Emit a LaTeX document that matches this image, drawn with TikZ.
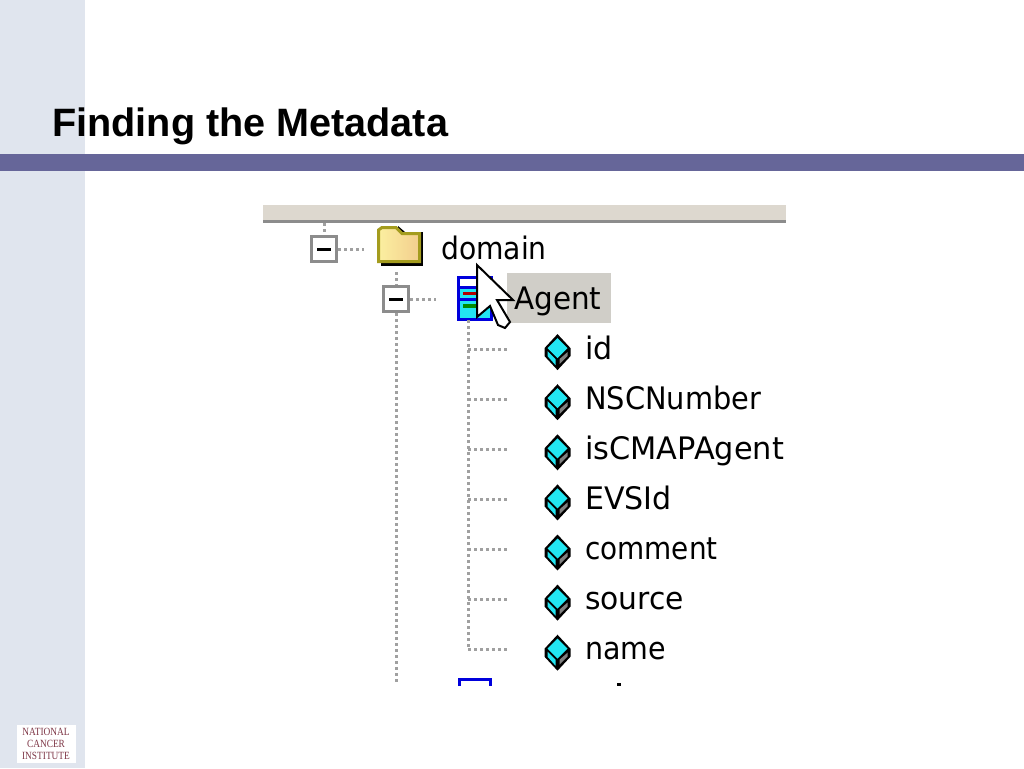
\documentclass[tikz,border=0pt]{standalone}
\usepackage{fontspec}
\setmainfont{Liberation Sans}
\newfontfamily\treefont{DejaVu Sans}
\newfontfamily\logofont{Liberation Serif}
\usetikzlibrary{positioning}
\definecolor{panelblue}{HTML}{E0E5EE}
\definecolor{barpurple}{HTML}{666699}
\definecolor{headbeige}{HTML}{DDD8CF}
\definecolor{dotgray}{HTML}{8C8C8C}
\definecolor{linegray}{HTML}{A0A0A0}
\definecolor{selgray}{HTML}{D0CEC8}
\definecolor{logored}{HTML}{7E3646}
\definecolor{iconblue}{HTML}{0000DC}
\definecolor{iconcyan}{HTML}{22E6F2}
\definecolor{foldline}{HTML}{A49C1E}
\definecolor{foldlight}{HTML}{FBEFA0}
\definecolor{folddark}{HTML}{F3CE8E}
\tikzset{
    titletext/.style = {anchor=base west,inner sep=0pt,font=\fontsize{39.6}{39.6}\selectfont\bfseries,text=black},
    treetext/.style = {anchor=base west,inner sep=0pt,font=\treefont\fontsize{31}{31}\selectfont,text=black},
    logotext/.style = {inner sep=0pt,font=\logofont\fontsize{11}{11}\selectfont,text=logored},
    minusbox/.style = {rectangle,draw=dotgray,line width=3pt,fill=white,minimum size=25pt,inner sep=0pt},
    minusbar/.style = {-,line width=3pt,black},
    treeline/.style = {-,line width=3pt,linegray,dash pattern=on 3pt off 3pt},
    classicon/.style = {rectangle,draw=iconblue,line width=3pt,inner sep=0pt},
}
\begin{document}
\begin{tikzpicture}[x=1pt,y=-1pt]
  \useasboundingbox (0,0) rectangle (1024,768);
  \fill[white] (0,0) rectangle (1024,768);
  % slide frame
  \fill[panelblue] (0,0) rectangle (85,768);
  \fill[barpurple] (0,153.5) rectangle (1024,170.5);
  \node[titletext] (title) at (52,136) {Finding the Metadata};
  % logo
  \node[fill=white,minimum width=59pt,minimum height=38pt,inner sep=0pt] (logo) at (46.5,744) {};
  \node[logotext] (logoa) at (46,732) {\scalebox{.85}[1]{NATIONAL}};
  \node[logotext] (logob) at (46,744) {\scalebox{.85}[1]{CANCER}};
  \node[logotext] (logoc) at (46,756) {\scalebox{.85}[1]{INSTITUTE}};
  % header of the tree panel
  \fill[headbeige] (263,205) rectangle (786,220);
  \fill[dotgray] (263,220) rectangle (786,223);
  % selection behind the class name
  \node[fill=selgray,minimum width=104pt,minimum height=50pt,inner sep=0pt] (agentsel) at (559,298) {};
  % boxes
  \node[minusbox] (boxa) at (324,249) {};
  \node[minusbox] (boxb) at (396,299) {};
  \draw[minusbar] (317,249) -- (331,249);
  \draw[minusbar] (389,299) -- (403,299);
  % folder
  \fill[black] (381,232) -- (423,232) -- (423,266) -- (381,266) -- cycle;
  \fill[black] (398,226) -- (405,232) -- (398,232) -- cycle;
  \shade[left color=foldlight,right color=folddark,draw=foldline,line width=3pt]
    (378.5,261.5) -- (378.5,230) -- (382,227.5) -- (396,227.5) -- (402,233.5) -- (419.5,233.5) -- (419.5,261.5) -- cycle;
  % class icon
  \fill[iconcyan] (458,277) rectangle (491,319);
  \fill[white] (459,279) rectangle (490,286);
  \fill[iconblue] (458,286) rectangle (491,289);
  \fill[iconblue] (458,298) rectangle (491,301);
  \draw[red!70!black,line width=3pt] (463,293) -- (487,293);
  \draw[green!55!black,line width=4pt] (463,306) -- (487,306);
  \node[classicon,minimum width=33pt,minimum height=42pt] (agenticon) at (474.5,298) {};
  % next class, cut off by the window
  \draw[iconblue,line width=3pt] (459,686) -- (459,679) -- (490,679) -- (490,686);
  \fill[black] (617,683) rectangle (621,686);
  % tree lines
  \coordinate (roottop) at (324,223);
  \coordinate (foldera) at (364,249);
  \coordinate (stemtop) at (396,272);
  \coordinate (stemend) at (396,683);
  \coordinate (iconb) at (436,299);
  \coordinate (attrtop) at (468,320);
  \draw[treeline] (roottop) -- (boxa.north);
  \draw[treeline] (boxa.east) -- (foldera);
  \draw[treeline] (stemtop) -- (boxb.north);
  \draw[treeline] (boxb.south) -- (stemend);
  \draw[treeline] (boxb.east) -- (iconb);
  % labels
  \node[treetext] (domain) at (441,259) {\scalebox{.91}[1]{domain}};
  \node[treetext] (agent) at (514,309) {\scalebox{.95}[1]{Agent}};
  % attributes
  \foreach \attr/\sx [count=\i] in {id/.97,NSCNumber/.93,isCMAPAgent/.98,EVSId/.97,comment/.90,source/.96,name/.92} {
    \pgfmathsetmacro{\rowy}{299+50.1*\i}
    \coordinate (tick\i) at (507,\rowy);
    \draw[treeline] (attrtop |- tick\i) -- (tick\i);
    \begin{scope}[shift={(557.5,\rowy+2)}]
      \fill[black] (0,-17) -- (13,-3) -- (13,5) -- (0,19) -- (-13,5) -- (-13,-3) -- cycle;
      \fill[iconcyan] (0,-13) -- (10,-3) -- (0,7) -- (-10,-3) -- cycle;
      \fill[iconcyan] (-10,0) -- (-2,8) -- (-2,14) -- (-10,5) -- cycle;
      \fill[gray] (10,1) -- (10,5) -- (2,13) -- (2,8) -- cycle;
    \end{scope}
    \node[treetext] (attr\i) at (585,\rowy+10) {\scalebox{\sx}[1]{\attr}};
  }
  \draw[treeline] (attrtop) -- (attrtop |- tick7);
  % mouse pointer
  \draw[black,fill=white,line width=2pt,line join=miter]
    (477,265) -- (477,317) -- (490,306) -- (498,325) -- (505,328) -- (510,322) -- (497,300) -- (513,300) -- cycle;
\end{tikzpicture}
\end{document}
